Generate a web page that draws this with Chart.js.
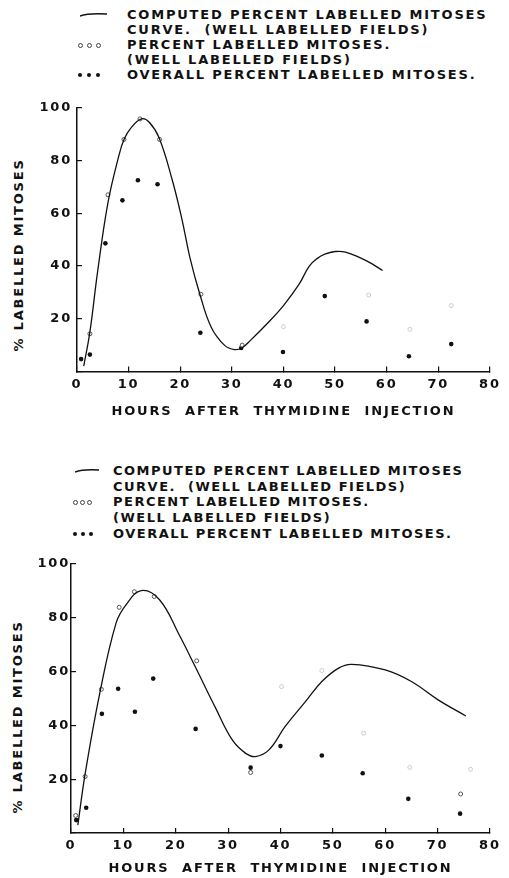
<!DOCTYPE html>
<html>
<head>
<meta charset="utf-8">
<script src="https://cdn.jsdelivr.net/npm/chart.js"></script>
<style>
  body { margin: 0; background: #fff; width: 509px; height: 878px; position: relative; overflow: hidden; }
  .t { position: absolute; font: bold 13px "DejaVu Sans", sans-serif; letter-spacing: 1.8px; color: #111; white-space: pre; line-height: 14px; }
  .dot { position: absolute; width: 4px; height: 4px; border-radius: 50%; background: #111; }
  .ring { position: absolute; width: 3px; height: 3px; border-radius: 50%; border: 1px solid #444; background: #fff; }
  .ytitle { position: absolute; font: bold 13px "DejaVu Sans", sans-serif; letter-spacing: 1.8px; color: #111; white-space: pre; transform: translate(-50%, -50%) rotate(-90deg); }
  canvas { position: absolute; left: 0; }
</style>
</head>
<body>

<!-- legend, top chart -->
<svg style="position:absolute;left:80px;top:11px" width="28" height="8"><path d="M0 5 Q 8 2 27 3" stroke="#111" stroke-width="1.4" fill="none"/></svg>
<div class="t" style="left:127px;top:8px">COMPUTED PERCENT LABELLED MITOSES</div>
<div class="t" style="left:127px;top:23px">CURVE.  (WELL LABELLED FIELDS)</div>
<div class="ring" style="left:78px;top:43px"></div><div class="ring" style="left:87px;top:43px"></div><div class="ring" style="left:96px;top:43px"></div>
<div class="t" style="left:127px;top:38px">PERCENT LABELLED MITOSES.</div>
<div class="t" style="left:127px;top:53px">(WELL LABELLED FIELDS)</div>
<div class="dot" style="left:78px;top:73px"></div><div class="dot" style="left:87px;top:73px"></div><div class="dot" style="left:96px;top:73px"></div>
<div class="t" style="left:127px;top:68px">OVERALL PERCENT LABELLED MITOSES.</div>

<div class="ytitle" style="left:18px;top:255px">% LABELLED MITOSES</div>
<canvas id="top" width="509" height="340" style="top:90px"></canvas>

<!-- legend, bottom chart -->
<svg style="position:absolute;left:75px;top:467px" width="25" height="8"><path d="M0 5 Q 8 2 24 3" stroke="#111" stroke-width="1.4" fill="none"/></svg>
<div class="t" style="left:113px;top:464px;letter-spacing:1.5px">COMPUTED PERCENT LABELLED MITOSES</div>
<div class="t" style="left:113px;top:480px;letter-spacing:1.5px">CURVE.  (WELL LABELLED FIELDS)</div>
<div class="ring" style="left:73px;top:500px"></div><div class="ring" style="left:80px;top:500px"></div><div class="ring" style="left:87px;top:500px"></div>
<div class="t" style="left:113px;top:495px;letter-spacing:1.5px">PERCENT LABELLED MITOSES.</div>
<div class="t" style="left:113px;top:511px;letter-spacing:1.5px">(WELL LABELLED FIELDS)</div>
<div class="dot" style="left:73px;top:532px"></div><div class="dot" style="left:81px;top:532px"></div><div class="dot" style="left:89px;top:532px"></div>
<div class="t" style="left:113px;top:527px;letter-spacing:1.5px">OVERALL PERCENT LABELLED MITOSES.</div>

<div class="ytitle" style="left:17px;top:717px">% LABELLED MITOSES</div>
<canvas id="bottom" width="509" height="328" style="top:550px"></canvas>

<script>
// ---- top chart ----
const topCurveHours = [1.3, 2.5, 4, 6, 8, 9.1, 10.5, 12.5, 14, 15.9, 18.4, 20.3, 21.9, 23.8, 26, 28.6, 30.5, 32, 33.6, 37, 40, 43, 45, 46.5, 48, 50, 52, 55, 57, 59.2];
const topCurvePct   = [2, 15, 38, 64, 81, 88, 92.5, 95.8, 94.5, 88.6, 73, 58, 43, 29.3, 16.8, 9.9, 8.3, 9, 11.8, 18.5, 25, 33, 40, 42.8, 44.5, 45.5, 45.3, 43, 41, 38.3];
const topWellHours = [2.5, 6, 9.1, 12.2, 16, 24, 32];
const topWellPct   = [14.3, 67, 88, 95.8, 88, 29.3, 10];
const topFaintHours = [40, 56.5, 64.5, 72.5];
const topFaintPct   = [17, 29, 16, 25];
const topAllHours = [0.8, 2.5, 5.5, 8.8, 11.8, 15.6, 23.9, 31.8, 39.9, 48, 56.1, 64.3, 72.5];
const topAllPct   = [4.7, 6.4, 48.6, 64.9, 72.5, 71, 14.7, 8.9, 7.4, 28.6, 19, 5.8, 10.4];

// ---- bottom chart ----
const botCurveHours = [1.3, 2.7, 5.5, 8.6, 10.5, 13.4, 16.9, 20.7, 23.8, 27.6, 30.8, 33.3, 35.2, 37.8, 40.9, 44.8, 47.9, 51.1, 53.6, 60, 65, 70.1, 75.4];
const botCurvePct   = [2.9, 22, 52, 78, 84.8, 90.1, 86.7, 73.5, 61.5, 46.5, 34.6, 29.7, 28.4, 30.9, 39.6, 48.9, 56.3, 61.3, 62.7, 60.6, 56.3, 49.5, 43.5];
const botWellHours = [0.9, 2.7, 5.8, 9.2, 12.1, 15.9, 24, 34.3, 74.4];
const botWellPct   = [6.5, 21, 53.4, 83.9, 89.7, 87.9, 64, 22.5, 14.5];
const botFaintHours = [40.2, 47.9, 55.9, 64.7, 76.3];
const botFaintPct   = [54.4, 60.4, 37.1, 24.4, 23.7];
const botAllHours = [1, 2.9, 5.9, 9, 12.2, 15.7, 23.8, 34.3, 40, 47.9, 55.7, 64.4, 74.3];
const botAllPct   = [4.8, 9.4, 44.3, 53.6, 45.1, 57.4, 38.7, 24.3, 32.3, 28.8, 22.2, 12.7, 7.2];

const xTicks = [0, 10, 20, 30, 40, 50, 60, 70, 80];

function pts(xs, ys) {
  return xs.map((x, i) => ({ x: x, y: ys[i] }));
}

const spacing = {
  id: 'spacing',
  beforeDraw(chart) { chart.ctx.letterSpacing = '1.8px'; },
  afterDraw(chart) { chart.ctx.letterSpacing = '0px'; }
};

const font = { family: '"DejaVu Sans", sans-serif', size: 13, weight: 'bold' };

function makeChart(id, curve, well, faint, all, dims) {
  new Chart(document.getElementById(id), {
    type: 'scatter',
    data: {
      datasets: [
        { label: 'Computed', data: curve, showLine: true, borderColor: '#111', borderWidth: 1.3,
          pointRadius: 0, tension: 0.4 },
        { label: 'Well labelled', data: well, pointRadius: 2, pointBorderWidth: 1,
          pointBackgroundColor: '#fff', pointBorderColor: '#555' },
        { label: 'Well labelled (faint)', data: faint, pointRadius: 2, pointBorderWidth: 1,
          pointBackgroundColor: '#fff', pointBorderColor: '#ccc' },
        { label: 'Overall', data: all, pointRadius: 2.3, pointBorderWidth: 0,
          pointBackgroundColor: '#111' }
      ]
    },
    options: {
      responsive: false,
      animation: false,
      layout: { padding: { top: 14, right: dims.right, left: 0, bottom: 0 } },
      plugins: { legend: { display: false }, tooltip: { enabled: false } },
      scales: {
        x: {
          type: 'linear', min: 0, max: 80,
          afterBuildTicks: (s) => { s.ticks = xTicks.map(v => ({ value: v })); },
          afterFit: (s) => { s.height = dims.xh; },
          border: { display: true, color: '#111', width: 1.5 },
          grid: { drawOnChartArea: false, drawTicks: true, tickLength: -5, color: '#111', lineWidth: 1.2 },
          ticks: { color: '#111', font: font, padding: 10, maxRotation: 0 },
          title: { display: true, text: 'HOURS  AFTER  THYMIDINE  INJECTION', color: '#111', font: font,
                   padding: { top: 0, bottom: dims.tb } }
        },
        y: {
          min: 0, max: 100,
          afterFit: (s) => { s.width = dims.yw; },
          border: { display: true, color: '#111', width: 1.5 },
          grid: { drawOnChartArea: false, drawTicks: true, tickLength: -5, color: '#111', lineWidth: 1.2 },
          ticks: { stepSize: 20, color: '#111', font: font, padding: dims.yp,
                   callback: (v) => (v === 0 ? '' : v) }
        }
      }
    },
    plugins: [spacing]
  });
}

makeChart('top', pts(topCurveHours, topCurvePct), pts(topWellHours, topWellPct),
  pts(topFaintHours, topFaintPct), pts(topAllHours, topAllPct),
  { right: 12, xh: 58.5, yw: 77, tb: 11, yp: 10 });

makeChart('bottom', pts(botCurveHours, botCurvePct), pts(botWellHours, botWellPct),
  pts(botFaintHours, botFaintPct), pts(botAllHours, botAllPct),
  { right: 17, xh: 45, yw: 71, tb: 1.5, yp: 6 });
</script>
</body>
</html>
